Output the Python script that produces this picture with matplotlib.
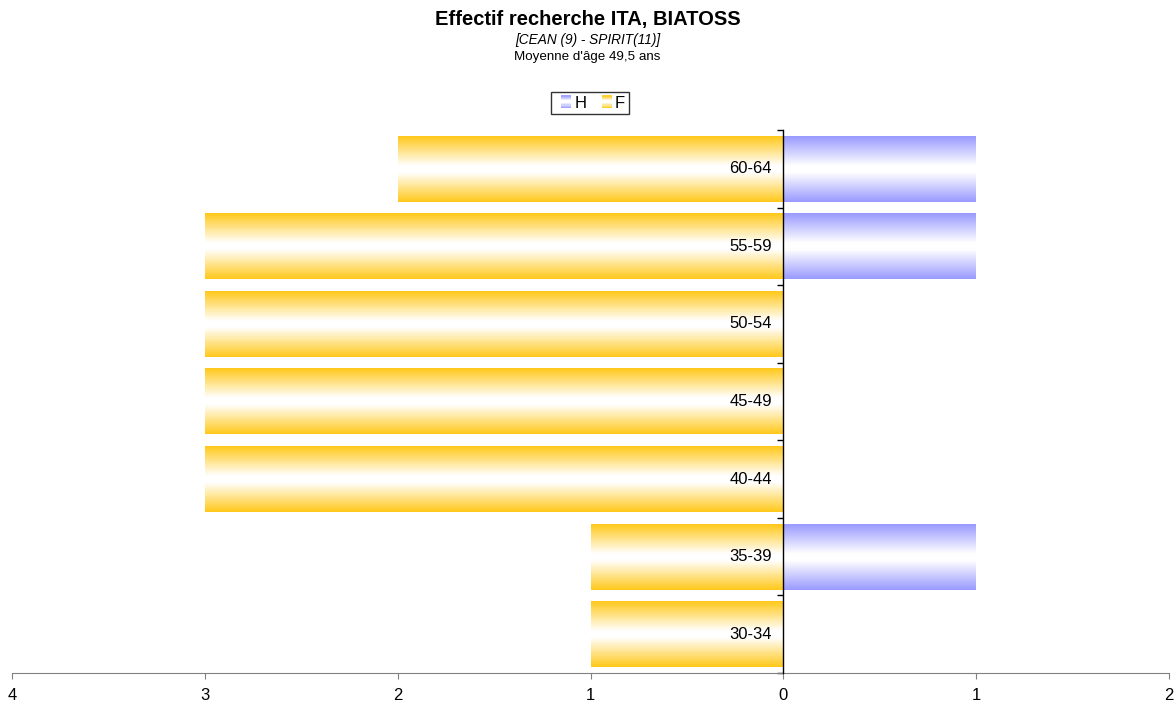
import numpy as np
import matplotlib
matplotlib.use("Agg")
import matplotlib.pyplot as plt
from matplotlib.colors import LinearSegmentedColormap
from matplotlib.patches import Rectangle
from matplotlib.legend_handler import HandlerBase

plt.rcParams['font.family'] = ['Liberation Sans', 'DejaVu Sans']

categories = ['30-34', '35-39', '40-44', '45-49', '50-54', '55-59', '60-64']
hommes = [0, 1, 0, 0, 0, 1, 1]
femmes = [1, 1, 3, 3, 3, 3, 2]
xticks = [-4, -3, -2, -1, 0, 1, 2]

col_h = '#9999ff'
col_f = '#ffc819'
bar_h = 0.85

def grad_cmap(c):
    return LinearSegmentedColormap.from_list('g', [(0, c), (0.45, '#ffffff'), (0.55, '#ffffff'), (1, c)])

grad = np.linspace(0, 1, 256).reshape(-1, 1)

fig = plt.figure(figsize=(11.75, 7.03), dpi=100)
ax = fig.add_axes([12 / 1175, 1 - 673 / 703, 1157 / 1175, 543 / 703])

y = np.arange(len(categories))
for yi, h, f in zip(y, hommes, femmes):
    if h:
        ax.imshow(grad, extent=[0, h, yi - bar_h / 2, yi + bar_h / 2],
                  aspect='auto', cmap=grad_cmap(col_h), zorder=2, origin='lower')
    if f:
        ax.imshow(grad, extent=[-f, 0, yi - bar_h / 2, yi + bar_h / 2],
                  aspect='auto', cmap=grad_cmap(col_f), zorder=2, origin='lower')

for yi, lab in zip(y, categories):
    ax.text(-0.06, yi, lab, ha='right', va='center', fontsize=12, zorder=3)

ax.set_xlim(-4, 2)
ax.set_ylim(-0.5, len(categories) - 0.5)
ax.set_xticks(xticks)
ax.set_xticklabels([str(abs(v)) for v in xticks], fontsize=12)
ax.set_yticks(np.arange(-0.5, len(categories), 1.0))
ax.set_yticklabels([])

for s in ['top', 'right']:
    ax.spines[s].set_visible(False)
ax.spines['left'].set_position(('data', 0))
ax.spines['left'].set_zorder(4)
ax.spines['left'].set_linewidth(1.0)
ax.spines['bottom'].set_color('#808080')
ax.tick_params(axis='y', length=4, width=1.0, direction='out')
ax.tick_params(axis='x', length=4, color='#808080', pad=7)


class GradHandler(HandlerBase):
    def __init__(self, color):
        super().__init__()
        self.color = color

    def create_artists(self, legend, orig, xd, yd, width, height, fontsize, trans):
        cmap = grad_cmap(self.color)
        n = 10
        w = width * 0.6
        h = height * 1.1
        y0 = yd + (height - h) / 2
        arts = []
        for i in range(n):
            c = cmap((i + 0.5) / n)
            arts.append(Rectangle((xd + width - w, y0 + h * i / n), w, h / n,
                                  facecolor=c, edgecolor='none', transform=trans))
        return arts


hh = Rectangle((0, 0), 1, 1)
hf = Rectangle((0, 0), 1, 1)
leg = fig.legend([hh, hf], ['H', 'F'], loc='center', bbox_to_anchor=(590 / 1175, 1 - 103 / 703),
                 ncol=2, fontsize=12, frameon=True, fancybox=False, edgecolor='black',
                 handlelength=1.0, handletextpad=0.2, columnspacing=0.5, borderpad=0.2,
                 handler_map={hh: GradHandler(col_h), hf: GradHandler(col_f)})
leg.get_frame().set_linewidth(1.0)

fig.text(0.5, 1 - 19 / 703, 'Effectif recherche ITA, BIATOSS', ha='center', va='center',
         fontsize=14.5, fontweight='bold')
fig.text(0.5, 1 - 40 / 703, '[CEAN (9) - SPIRIT(11)]', ha='center', va='center',
         fontsize=9.8, style='italic')
fig.text(0.5, 1 - 57 / 703, "Moyenne d'âge 49,5 ans", ha='center', va='center', fontsize=9.6)

fig.savefig('out.png', dpi=100)
